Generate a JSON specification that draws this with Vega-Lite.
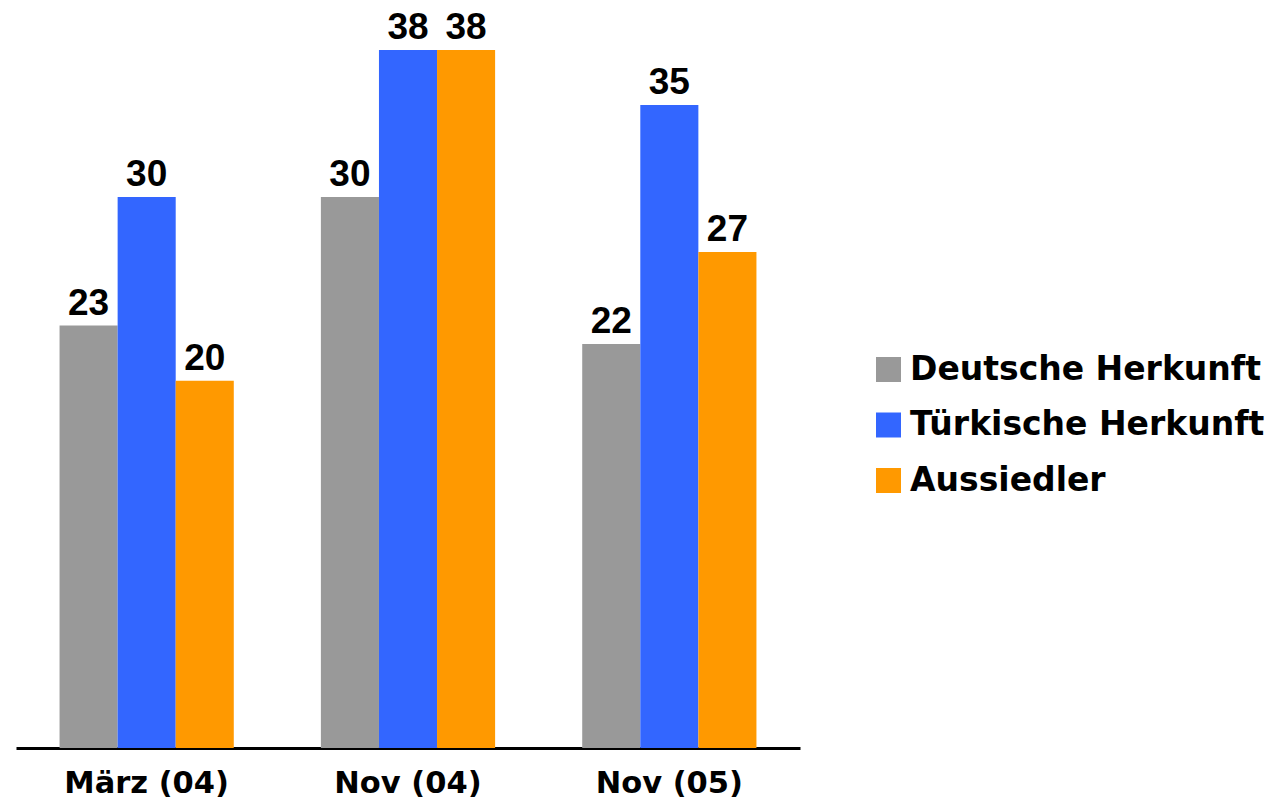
{
  "$schema": "https://vega.github.io/schema/vega-lite/v6.json",
  "autosize": {"type": "none"},
  "padding": {"left": 16, "top": 50, "right": 477, "bottom": 56},
  "width": 784,
  "height": 698,
  "background": "white",
  "config": {"view": {"stroke": null}},
  "data": {
    "values": [
      {"periode": "März (04)", "gruppe": "Deutsche Herkunft", "wert": 23},
      {"periode": "März (04)", "gruppe": "Türkische Herkunft", "wert": 30},
      {"periode": "März (04)", "gruppe": "Aussiedler", "wert": 20},
      {"periode": "Nov (04)", "gruppe": "Deutsche Herkunft", "wert": 30},
      {"periode": "Nov (04)", "gruppe": "Türkische Herkunft", "wert": 38},
      {"periode": "Nov (04)", "gruppe": "Aussiedler", "wert": 38},
      {"periode": "Nov (05)", "gruppe": "Deutsche Herkunft", "wert": 22},
      {"periode": "Nov (05)", "gruppe": "Türkische Herkunft", "wert": 35},
      {"periode": "Nov (05)", "gruppe": "Aussiedler", "wert": 27}
    ]
  },
  "encoding": {
    "x": {
      "field": "periode", "type": "nominal", "sort": null,
      "scale": {"paddingInner": 0, "paddingOuter": 0},
      "axis": {
        "title": null, "labelAngle": 0, "ticks": false, "grid": false,
        "domainColor": "black", "domainWidth": 3,
        "labelFont": "DejaVu Sans", "labelFontWeight": "bold", "labelFontSize": 30.5,
        "labelColor": "black", "labelPadding": 20
      }
    },
    "xOffset": {
      "field": "gruppe", "type": "nominal",
      "sort": ["Deutsche Herkunft", "Türkische Herkunft", "Aussiedler"],
      "scale": {"paddingInner": 0, "paddingOuter": 0.75}
    },
    "y": {
      "field": "wert", "type": "quantitative",
      "scale": {"domain": [0, 38], "nice": false, "zero": true},
      "axis": null
    }
  },
  "layer": [
    {
      "mark": {"type": "bar"},
      "encoding": {
        "color": {
          "field": "gruppe", "type": "nominal",
          "sort": ["Deutsche Herkunft", "Türkische Herkunft", "Aussiedler"],
          "scale": {
            "domain": ["Deutsche Herkunft", "Türkische Herkunft", "Aussiedler"],
            "range": ["#999999", "#3366FF", "#FF9900"]
          },
          "legend": {
            "title": null, "orient": "none", "legendX": 856, "legendY": 303,
            "symbolType": "square", "symbolSize": 625, "symbolStrokeWidth": 0,
            "symbolOpacity": 1,
            "labelFont": "DejaVu Sans", "labelFontWeight": "bold", "labelFontSize": 33,
            "labelColor": "black", "labelLimit": 600, "labelOffset": 5,
            "rowPadding": 21.5
          }
        }
      }
    },
    {
      "mark": {
        "type": "text", "baseline": "alphabetic", "dy": -11,
        "font": "Liberation Sans", "fontWeight": "bold", "fontSize": 37, "color": "black"
      },
      "encoding": {
        "text": {"field": "wert", "type": "quantitative"}
      }
    }
  ]
}
